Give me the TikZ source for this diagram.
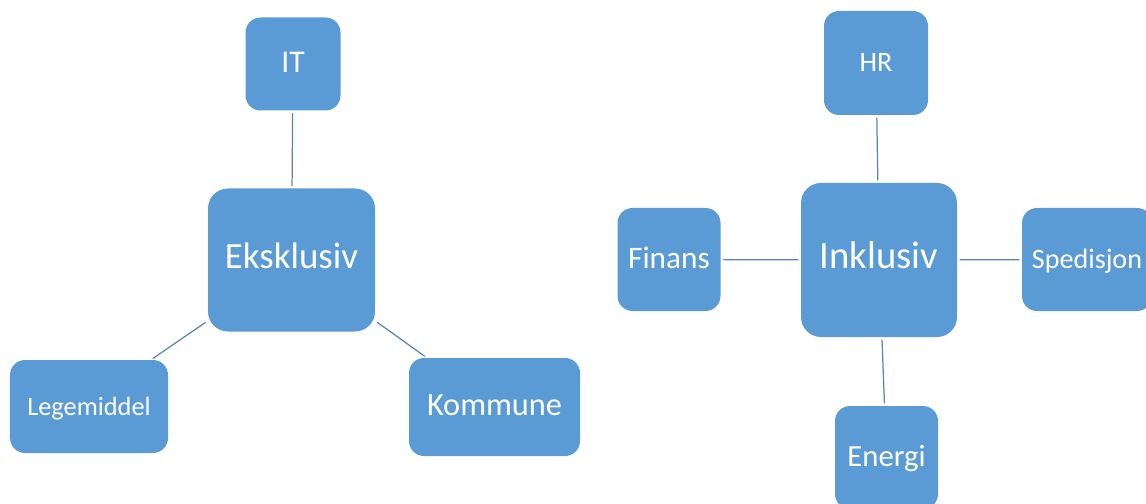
\documentclass[tikz,border=0pt]{standalone}
\usepackage{fontspec}
\setmainfont{Carlito}
\definecolor{boxblue}{RGB}{91,155,213}
\definecolor{lineblue}{RGB}{86,132,186}

\begin{document}
\begin{tikzpicture}[
  box/.style={draw=none, fill=boxblue, rounded corners=0.3cm, text=white,
    align=center, inner sep=0pt, outer sep=0pt, text height=1.12em, text depth=0.15em},
  link/.style={draw=lineblue, line width=0.7pt, shorten >=1.5pt, shorten <=1.5pt}
]
\useasboundingbox (0,0) rectangle (22.92,-10.08);
% left cluster
\node[box, minimum width=3.34cm, minimum height=2.86cm, rounded corners=0.4cm,
  font=\fontsize{21}{24}\selectfont] (1) at (5.83,-5.2) {Eksklusiv};
\node[box, minimum width=1.9cm, minimum height=1.86cm,
  font=\fontsize{18}{21}\selectfont] (2) at (5.86,-1.28) {IT};
\node[box, minimum width=3.16cm, minimum height=1.86cm,
  font=\fontsize{15}{18}\selectfont] (3) at (1.78,-8.13) {Legemiddel};
\node[box, minimum width=3.42cm, minimum height=1.96cm,
  font=\fontsize{18.4}{21}\selectfont] (4) at (9.89,-8.14) {Kommune};
% right cluster
\node[box, minimum width=3.12cm, minimum height=3.08cm, rounded corners=0.4cm,
  font=\fontsize{22}{25}\selectfont] (5) at (17.58,-5.2) {Inklusiv};
\node[box, minimum width=2.08cm, minimum height=2.08cm,
  font=\fontsize{16}{19}\selectfont] (6) at (17.52,-1.26) {HR};
\node[box, minimum width=2.06cm, minimum height=2.06cm,
  font=\fontsize{17.8}{21}\selectfont] (7) at (13.38,-5.19) {Finans};
\node[box, minimum width=2.6cm, minimum height=2.06cm,
  font=\fontsize{16}{19}\selectfont] (8) at (21.74,-5.19) {Spedisjon};
\node[box, minimum width=2.06cm, minimum height=2.06cm,
  font=\fontsize{17.5}{21}\selectfont] (9) at (17.73,-9.15) {Energi};
\path[link] (2) -- (1);
\path[link] (1.216) -- (3.37);
\path[link] (1.324) -- (4.144);
\path[link] (6) -- (5);
\path[link] (7) -- (5);
\path[link] (5) -- (8);
\path[link] (5) -- (9);
\end{tikzpicture}
\end{document}
